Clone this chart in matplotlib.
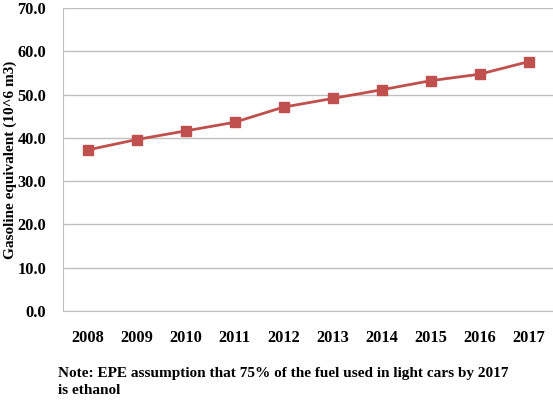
import matplotlib
matplotlib.use("Agg")
import matplotlib.pyplot as plt

years = ["2008", "2009", "2010", "2011", "2012", "2013", "2014", "2015", "2016", "2017"]
gasoline_eq = [37.2, 39.6, 41.6, 43.6, 47.1, 49.1, 51.1, 53.2, 54.7, 57.6]
yticks = [0, 10, 20, 30, 40, 50, 60, 70]

plt.rcParams['font.family'] = ['Liberation Serif', 'DejaVu Serif']
plt.rcParams['font.weight'] = 'bold'

fig = plt.figure(figsize=(5.53, 4.00), dpi=100)
ax = fig.add_axes([63 / 553, 1 - 311 / 400, (553 - 63) / 553, (311 - 8) / 400])

x = list(range(len(years)))
ax.plot(x, gasoline_eq, color='#C0504D', lw=2, marker='s', ms=6.5,
        markerfacecolor='#C0504D', markeredgecolor='#C0504D')

ax.set_xlim(-0.5, len(years) - 0.5)
ax.set_ylim(0, 70)
ax.set_yticks(yticks)
ax.set_yticklabels(["%.1f" % v for v in yticks], fontsize=11.8, fontweight='bold')
ax.set_xticks(x)
ax.set_xticklabels(years, fontsize=11.8, fontweight='bold')
ax.tick_params(axis='y', length=0, pad=12)
ax.tick_params(axis='x', length=0, pad=14)
ax.yaxis.grid(True, color='#BFBFBF', lw=1)
ax.set_axisbelow(True)
for s in ['top', 'right']:
    ax.spines[s].set_visible(False)
ax.spines['left'].set_color('#BFBFBF')
ax.spines['bottom'].set_color('#BFBFBF')

fig.text(10 / 553, 1 - 160 / 400, "Gasoline equivalent (10^6 m3)", rotation=90,
         ha='center', va='center', fontsize=11, fontweight='bold')
fig.text(58 / 553, 1 - 373 / 400, "Note: EPE assumption that 75% of the fuel used in light cars by 2017",
         ha='left', va='center', fontsize=11, fontweight='bold')
fig.text(58 / 553, 1 - 391 / 400, "is ethanol",
         ha='left', va='center', fontsize=11, fontweight='bold')

fig.savefig("out.png", dpi=100)
